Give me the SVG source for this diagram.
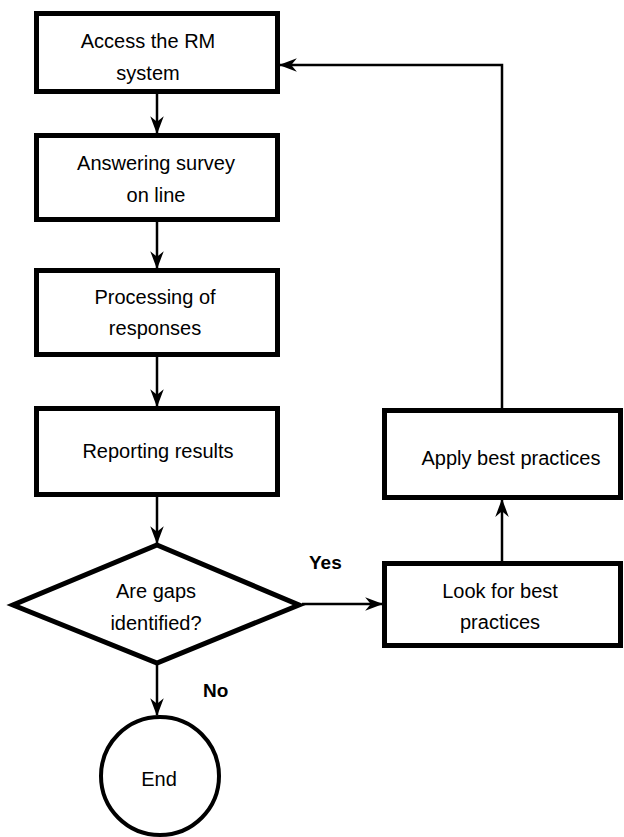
<svg xmlns="http://www.w3.org/2000/svg" width="624" height="837" viewBox="0 0 624 837">
<defs>
<marker id="ah" markerUnits="userSpaceOnUse" markerWidth="18" markerHeight="14" viewBox="0 0 16 12" refX="15" refY="6" orient="auto">
<path d="M0,0 L16,6 L0,12 L5,6 Z" fill="#000"/>
</marker>
<style>
.box{fill:#fff;stroke:#000;stroke-width:5}
.t{font-family:"Liberation Sans",Arial,sans-serif;font-size:20px;fill:#000;text-anchor:middle}
.b{font-family:"Liberation Sans",Arial,sans-serif;font-size:19px;font-weight:bold;fill:#000}
.c{fill:none;stroke:#000;stroke-width:2.5;marker-end:url(#ah)}
</style>
</defs>
<rect width="624" height="837" fill="#fff"/>
<g id="connectors">
<path class="c" d="M157,94 V133"/>
<path class="c" d="M157,222 V268"/>
<path class="c" d="M157,357 V406"/>
<path class="c" d="M157,497 V543"/>
<path class="c" d="M157,665 V715"/>
<path class="c" d="M302,604 H382"/>
<path class="c" d="M502,561 V500"/>
<path class="c" d="M502,408 V65 H280"/>
</g>
<g id="n1"><rect class="box" x="36.5" y="13.5" width="241" height="78"/><text class="t" x="148" y="48">Access the RM</text><text class="t" x="148" y="80">system</text></g>
<g id="n2"><rect class="box" x="36.5" y="135.5" width="241" height="84"/><text class="t" x="156" y="170">Answering survey</text><text class="t" x="156" y="202">on line</text></g>
<g id="n3"><rect class="box" x="36.5" y="270.5" width="241" height="84"/><text class="t" x="155" y="304">Processing of</text><text class="t" x="155" y="335">responses</text></g>
<g id="n4"><rect class="box" x="36.5" y="408.5" width="241" height="86"/><text class="t" x="158" y="458">Reporting results</text></g>
<g id="n5"><polygon class="box" points="157,545 299,605 157,663 13,605"/><text class="t" x="156" y="598">Are gaps</text><text class="t" x="156" y="630">identified?</text></g>
<g id="n6"><circle cx="160" cy="776" r="59" fill="#fff" stroke="#000" stroke-width="4"/><text class="t" x="159" y="786">End</text></g>
<g id="n7"><rect class="box" x="384.5" y="563.5" width="236" height="82"/><text class="t" x="500" y="598">Look for best</text><text class="t" x="500" y="629">practices</text></g>
<g id="n8"><rect class="box" x="384.5" y="410.5" width="236" height="87"/><text class="t" x="511" y="465">Apply best practices</text></g>
<g id="labels"><text class="b" x="309" y="569">Yes</text><text class="b" x="203" y="697">No</text></g>
</svg>
